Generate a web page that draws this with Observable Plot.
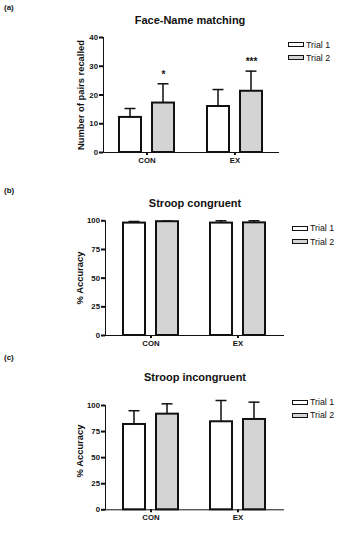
<!DOCTYPE html>
<html>
<head>
<meta charset="utf-8">
<script src="https://cdn.jsdelivr.net/npm/d3@7"></script>
<script src="https://cdn.jsdelivr.net/npm/@observablehq/plot@0.6"></script>
<style>
  html, body { margin: 0; padding: 0; background: #fff; }
  #fig { position: relative; width: 349px; height: 551px; overflow: hidden;
         font-family: "Liberation Sans", Arial, sans-serif; color: #111; }
  .panel { position: absolute; left: 0; }
  .panel svg [aria-label*="axis"] path,
  .panel svg [aria-label*="axis"] line { stroke-width: 2px; stroke: #111; }
  .panel svg [aria-label*="axis"] text { font-size: 7.8px; }
  .tag { position: absolute; font-size: 8px; font-weight: bold; }
  .title { position: absolute; font-size: 11px; font-weight: bold; transform: translate(-50%, -50%); white-space: nowrap; }
  .ylab { position: absolute; font-size: 9.4px; font-weight: bold; white-space: nowrap;
          transform: translate(-50%, -50%) rotate(-90deg); }
  .leg { position: absolute; font-size: 8.8px; display: flex; align-items: center; transform: translateY(-50%); }
  .leg i { display: inline-block; width: 14px; height: 3px; border: 1.7px solid #111; margin-right: 2px; }
</style>
</head>
<body>
<div id="fig"></div>
<script>
// Groups and trials shared by all three panels
const groups = ["CON", "EX"];
const trials = ["Trial 1", "Trial 2"];
const trialFill = ["#ffffff", "#d4d4d4"];

// (a) Face-Name matching: number of pairs recalled (mean, SD)
const faceT1 = [12.2, 16.0];
const faceT2 = [17.2, 21.3];
const faceT1Err = [3.1, 5.9];
const faceT2Err = [6.7, 7.0];
const faceStars = ["*", "***"];

// (b) Stroop congruent: % accuracy
const congT1 = [98.0, 98.0];
const congT2 = [99.2, 98.2];
const congT1Err = [1.4, 2.0];
const congT2Err = [0.5, 1.8];

// (c) Stroop incongruent: % accuracy
const incT1 = [81.8, 84.4];
const incT2 = [91.7, 86.6];
const incT1Err = [13.2, 20.4];
const incT2Err = [9.9, 16.6];

const fig = document.getElementById("fig");

function rows(t1, t2, e1, e2, stars) {
  return groups.map((g, i) => ({group: g, t1: t1[i], t2: t2[i], e1: e1[i], e2: e2[i], star: stars ? stars[i] : ""}));
}

function panel(cfg) {
  const data = rows(cfg.t1, cfg.t2, cfg.e1, cfg.e2, cfg.stars);
  const bw = 55;          // band width holding the two bars of a group
  const barW = 22;
  const off = bw - barW;  // inset that pushes a bar to one side of the band
  const capHalf = 5.5;
  const c1 = barW / 2, c2 = bw - barW / 2;  // bar centres within the band
  const W = 349 - cfg.ml - cfg.mr;
  const step = cfg.step;
  const pInner = 1 - bw / step;
  const pOuter = (W / step - 2 + pInner) / 2;
  const marks = [
    // error whiskers (upward only) and caps
    Plot.barY(data, {x: "group", y1: "t1", y2: d => d.t1 + d.e1, fill: "#111", insetLeft: c1 - 0.75, insetRight: bw - c1 - 0.75}),
    Plot.barY(data, {x: "group", y1: "t2", y2: d => d.t2 + d.e2, fill: "#111", insetLeft: c2 - 0.75, insetRight: bw - c2 - 0.75}),
    Plot.tickY(data, {x: "group", y: d => d.t1 + d.e1, stroke: "#111", strokeWidth: 1.5, insetLeft: c1 - capHalf, insetRight: bw - c1 - capHalf}),
    Plot.tickY(data, {x: "group", y: d => d.t2 + d.e2, stroke: "#111", strokeWidth: 1.5, insetLeft: c2 - capHalf, insetRight: bw - c2 - capHalf}),
    // bars
    Plot.barY(data, {x: "group", y: "t1", fill: trialFill[0], stroke: "#111", strokeWidth: 2, insetRight: off}),
    Plot.barY(data, {x: "group", y: "t2", fill: trialFill[1], stroke: "#111", strokeWidth: 2, insetLeft: off})
  ];
  if (cfg.stars) {
    marks.push(Plot.text(data, {x: "group", y: d => d.t2 + d.e2, text: "star", dx: c2 - bw / 2, dy: -9,
      fontSize: 10, fontWeight: "bold", fill: "#111"}));
  }
  const svg = Plot.plot({
    width: 349,
    height: cfg.h,
    marginTop: cfg.mt,
    marginBottom: cfg.mb,
    marginLeft: cfg.ml,
    marginRight: cfg.mr,
    style: {fontFamily: '"Liberation Sans", Arial, sans-serif', fontSize: "7.8px", fontWeight: "bold", color: "#111", background: "transparent"},
    x: {domain: groups, paddingInner: pInner, paddingOuter: pOuter, line: true, tickSize: 3, tickPadding: 2, label: null},
    y: {domain: cfg.domain, ticks: cfg.ticks, line: true, tickSize: 4, tickPadding: 1.5, label: null},
    marks
  });
  const wrap = document.createElement("div");
  wrap.className = "panel";
  wrap.style.top = cfg.top + "px";
  wrap.appendChild(svg);
  fig.appendChild(wrap);

  const add = (cls, text, x, y) => {
    const el = document.createElement("div");
    el.className = cls;
    el.textContent = text;
    el.style.left = x + "px";
    el.style.top = y + "px";
    fig.appendChild(el);
    return el;
  };
  add("tag", cfg.tag, 4, cfg.tagY);
  add("title", cfg.title, cfg.titleX, cfg.titleY);
  add("ylab", cfg.ylabel, cfg.ylabX, cfg.ylabY);
  trials.forEach((t, i) => {
    const el = document.createElement("div");
    el.className = "leg";
    el.style.left = cfg.legX + "px";
    el.style.top = cfg.legY[i] + "px";
    const sw = document.createElement("i");
    sw.style.background = trialFill[i];
    el.appendChild(sw);
    el.appendChild(document.createTextNode(t));
    fig.appendChild(el);
  });
}

panel({
  top: 0, h: 180, mt: 37, mb: 28, ml: 103, mr: 71, step: 88,
  domain: [0, 40], ticks: [0, 10, 20, 30, 40],
  t1: faceT1, t2: faceT2, e1: faceT1Err, e2: faceT2Err, stars: faceStars,
  tag: "(a)", tagY: 3, title: "Face-Name matching", titleX: 190, titleY: 20,
  ylabel: "Number of pairs recalled", ylabX: 80, ylabY: 95,
  legX: 288, legY: [44.7, 57.5]
});

panel({
  top: 180, h: 180, mt: 40.3, mb: 25, ml: 105, mr: 66, step: 87.5,
  domain: [0, 100], ticks: [0, 25, 50, 75, 100],
  t1: congT1, t2: congT2, e1: congT1Err, e2: congT2Err,
  tag: "(b)", tagY: 186, title: "Stroop congruent", titleX: 195, titleY: 203,
  ylabel: "% Accuracy", ylabX: 79, ylabY: 278,
  legX: 292, legY: [228.3, 241.7]
});

panel({
  top: 360, h: 191, mt: 45, mb: 41.7, ml: 105, mr: 66, step: 87.5,
  domain: [0, 100], ticks: [0, 25, 50, 75, 100],
  t1: incT1, t2: incT2, e1: incT1Err, e2: incT2Err,
  tag: "(c)", tagY: 353, title: "Stroop incongruent", titleX: 195, titleY: 377,
  ylabel: "% Accuracy", ylabX: 79, ylabY: 451,
  legX: 292, legY: [402.3, 415.3]
});
</script>
</body>
</html>
